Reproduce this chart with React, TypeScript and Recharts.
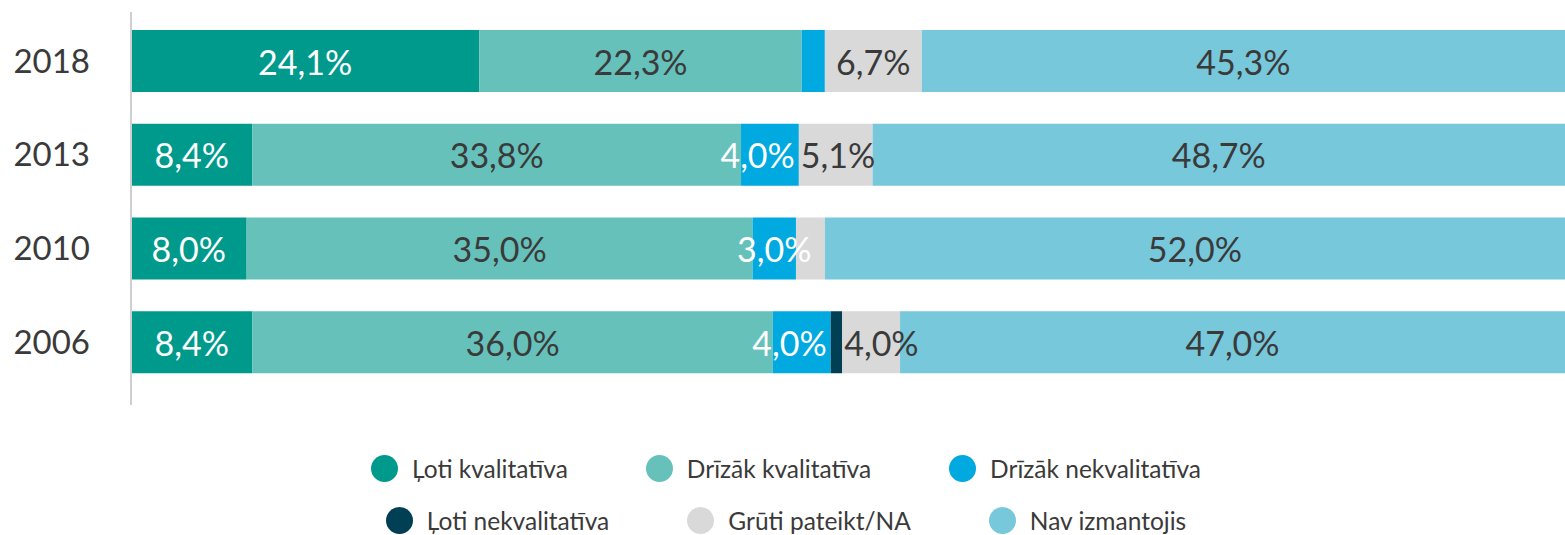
import { BarChart, Bar, XAxis, YAxis, Legend, LabelList } from "recharts";

const years = ["2018", "2013", "2010", "2006"];
const lotiKvalitativa = [24.1, 8.4, 8.0, 8.4];
const drizakKvalitativa = [22.3, 33.8, 35.0, 36.0];
const drizakNekvalitativa = [1.6, 4.0, 3.0, 4.0];
const lotiNekvalitativa = [0, 0, 0, 0.8];
const grutiPateikt = [6.7, 5.1, 2.0, 4.0];
const navIzmantojis = [45.3, 48.7, 52.0, 47.0];

const seriesNames = [
  "Ļoti kvalitatīva",
  "Drīzāk kvalitatīva",
  "Drīzāk nekvalitatīva",
  "Ļoti nekvalitatīva",
  "Grūti pateikt/NA",
  "Nav izmantojis",
];

const FONT = "Lato, 'Open Sans', sans-serif";
const TEXT = "#3a3a3a";

const series = [
  { key: "lk", values: lotiKvalitativa, color: "#009a8c", label: "#ffffff" },
  { key: "dk", values: drizakKvalitativa, color: "#66c1bb", label: TEXT },
  { key: "dn", values: drizakNekvalitativa, color: "#00a9e0", label: "#ffffff" },
  { key: "ln", values: lotiNekvalitativa, color: "#003f54", label: "#ffffff" },
  { key: "gp", values: grutiPateikt, color: "#d9d9d9", label: TEXT },
  { key: "ni", values: navIzmantojis, color: "#77c8db", label: TEXT },
].map((s, i) => ({ ...s, name: seriesNames[i] }));

const data = years.map((year, i) => {
  const row: Record<string, any> = { year };
  series.forEach((s) => (row[s.key] = s.values[i]));
  return row;
});

const fmt = (v: any) =>
  typeof v === "number" && v >= 3 ? v.toFixed(1).replace(".", ",") + "%" : "";

// the grey label is pushed to the left edge when its segment is too narrow,
// and the blue one then moves to its right edge to make room
const makeLabel = (key: string, fill: string) => (props: any) => {
  const { x, y, width, height, value, index } = props;
  const text = fmt(value);
  if (!text) return null;
  let anchor: "start" | "middle" | "end" = "middle";
  let tx = x + width / 2;
  const g = grutiPateikt[index];
  if (key === "gp" && width < 80) {
    anchor = "start";
    tx = x + 2;
  }
  if (key === "dn" && g >= 3 && g < 5.5) {
    anchor = "end";
    tx = x + width - 4;
  }
  return (
    <text
      x={tx}
      y={y + height / 2}
      textAnchor={anchor}
      dominantBaseline="central"
      fill={fill}
      fontSize={34}
      fontFamily={FONT}
    >
      {text}
    </text>
  );
};

const legendRows = [series.slice(0, 3), series.slice(3, 6)];

function LegendBox() {
  return (
    <div
      style={{
        height: 130,
        position: "relative",
        fontFamily: FONT,
        fontSize: 24.5,
        color: TEXT,
      }}
    >
      {legendRows.map((row, r) => (
        <div
          key={r}
          style={{
            position: "absolute",
            top: r === 0 ? 50 : 102,
            left: 0,
            right: 0,
            paddingLeft: 7,
            display: "flex",
            justifyContent: "center",
            gap: 78,
          }}
        >
          {row.map((s) => (
            <div
              key={s.key}
              style={{ display: "flex", alignItems: "center", height: 27 }}
            >
              <span
                style={{
                  width: 27,
                  height: 27,
                  borderRadius: "50%",
                  background: s.color,
                  display: "inline-block",
                  marginRight: 14,
                }}
              />
              <span>{s.name}</span>
            </div>
          ))}
        </div>
      ))}
    </div>
  );
}

export default function App() {
  return (
    <div style={{ position: "absolute", left: 0, top: 0, background: "#fff" }}>
      <BarChart
        width={1565}
        height={535}
        data={data}
        layout="vertical"
        margin={{ top: 12, right: 0, bottom: 0, left: 0 }}
      >
        <XAxis type="number" domain={[0, 99.2]} allowDataOverflow hide />
        <YAxis
          type="category"
          dataKey="year"
          width={131}
          padding={{ top: 2, bottom: 16 }}
          axisLine={{ stroke: "#cfcfcf", strokeWidth: 2 }}
          tickLine={false}
          tickSize={0}
          tickMargin={41}
          tick={{ fontSize: 33, fill: TEXT, fontFamily: FONT }}
        />
        <Legend verticalAlign="bottom" height={130} content={() => <LegendBox />} />
        {series.map((s) => (
          <Bar
            key={s.key}
            dataKey={s.key}
            name={s.name}
            stackId="a"
            fill={s.color}
            barSize={62}
            isAnimationActive={false}
          >
            <LabelList dataKey={s.key} content={makeLabel(s.key, s.label)} />
          </Bar>
        ))}
      </BarChart>
    </div>
  );
}
